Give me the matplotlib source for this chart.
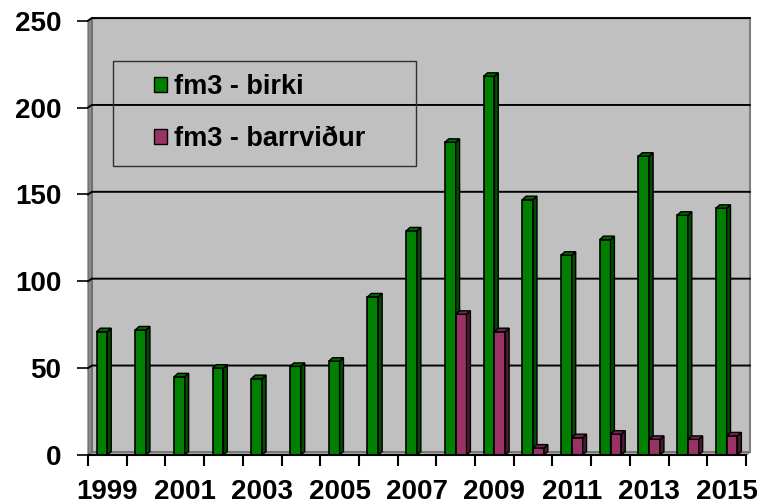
import matplotlib.pyplot as plt
from matplotlib.patches import Polygon, Rectangle, Patch

plt.rcParams["font.family"] = ["Liberation Sans", "DejaVu Sans"]
plt.rcParams["font.weight"] = "bold"

# data
years = list(range(1999, 2016))
birki = [71, 72, 45, 50, 44, 51, 54, 91, 129, 180, 218, 147, 115, 124, 172, 138, 142]
barr = [0, 0, 0, 0, 0, 0, 0, 0, 0, 81, 71, 4, 10, 12, 9, 9, 11]
series_labels = ["fm3 - birki", "fm3 - barrviður"]
y_ticks = [0, 50, 100, 150, 200, 250]

# colours (front, side, top)
green = ("#008000", "#004c00", "#006600")
purple = ("#993366", "#4d1a33", "#73264d")
wall = "#c0c0c0"

# fake 3d depth, in data units
dx, dy = 0.10, 2.0      # bars
wdx, wdy = 0.10, 1.5    # back wall

fig = plt.figure(figsize=(7.6, 5.04), dpi=100, facecolor="white")
ax = fig.add_axes([88 / 760, 49 / 504, 658 / 760, 434.3 / 504])
ax.set_facecolor("none")

n = len(years)
x0, x1 = -0.5, n - 0.5
ymax = y_ticks[-1]

# back wall, side wall, floor
ax.add_patch(Polygon([(x0 + wdx, wdy), (x1 + wdx, wdy), (x1 + wdx, ymax + wdy), (x0 + wdx, ymax + wdy)],
                     closed=True, facecolor=wall, edgecolor="#808080", lw=1.5, zorder=0, clip_on=False))
ax.add_patch(Polygon([(x0, 0), (x0 + wdx, wdy), (x0 + wdx, ymax + wdy), (x0, ymax)],
                     closed=True, facecolor="#8c8c8c", edgecolor="#606060", lw=0.8, zorder=0.1, clip_on=False))
ax.add_patch(Polygon([(x0, 0), (x1, 0), (x1 + wdx, wdy), (x0 + wdx, wdy)],
                     closed=True, facecolor="#b0b0b0", edgecolor="#707070", lw=0.8, zorder=0.1, clip_on=False))

# gridlines on the back wall
for yv in y_ticks[1:]:
    ax.plot([x0, x0 + wdx, x1 + wdx], [yv, yv + wdy, yv + wdy], color="black", lw=1.4,
            zorder=0.5, clip_on=False, solid_joinstyle="miter")

width = 0.28
xs = list(range(n))


def draw_3d(bars, cols):
    for b in bars:
        h = b.get_height()
        if h <= 0:
            b.set_visible(False)
            continue
        l = b.get_x()
        r = l + b.get_width()
        z = b.get_zorder()
        side = [(r, 0), (r + dx, dy), (r + dx, h + dy), (r, h)]
        top = [(l, h), (r, h), (r + dx, h + dy), (l + dx, h + dy)]
        ax.add_patch(Polygon(side, closed=True, facecolor=cols[1], edgecolor="black", lw=1, zorder=z, clip_on=False))
        ax.add_patch(Polygon(top, closed=True, facecolor=cols[2], edgecolor="black", lw=1, zorder=z, clip_on=False))


g = ax.bar([x - width / 2 for x in xs], birki, width, color=green[0], edgecolor="black", lw=1.2, zorder=2)
draw_3d(g, green)
p = ax.bar([x + width / 2 for x in xs], barr, width, color=purple[0], edgecolor="black", lw=1.2, zorder=3)
draw_3d(p, purple)

ax.set_xlim(x0, x1)
ax.set_ylim(0, ymax)

ax.set_yticks(y_ticks)
ax.set_yticklabels([str(v) for v in y_ticks], fontsize=20, fontweight="bold")
ax.tick_params(axis="y", length=8, width=1.2, pad=11, color="black")

ax.set_xticks([i - 0.5 for i in range(n + 1)])
ax.set_xticklabels([])
ax.set_xticks(xs[::2], minor=True)
ax.set_xticklabels([str(y) for y in years[::2]], minor=True, fontsize=20, fontweight="bold")
ax.tick_params(axis="x", which="major", length=8, width=1.5, color="black")
ax.tick_params(axis="x", which="minor", length=0, pad=17)

for s in ["top", "right", "left"]:
    ax.spines[s].set_visible(False)
ax.spines["bottom"].set_linewidth(1.5)
ax.spines["bottom"].set_zorder(4)

# legend
ax.add_patch(Rectangle((0.038, 0.665), 0.4605, 0.242, transform=ax.transAxes,
                       facecolor="none", edgecolor="#303030", lw=1, zorder=5))
handles = [Patch(facecolor=green[0], edgecolor="black"), Patch(facecolor=purple[0], edgecolor="black")]
leg = ax.legend(handles, series_labels, loc="upper left", bbox_to_anchor=(0.1, 0.877),
                frameon=False, fontsize=19.5, handlelength=0.5, handleheight=0.5,
                handletextpad=0.25, labelspacing=0.97, borderpad=0, borderaxespad=0)
leg.set_zorder(6)
for t in leg.get_texts():
    t.set_fontweight("bold")

fig.savefig("out.png", dpi=100, facecolor="white")
